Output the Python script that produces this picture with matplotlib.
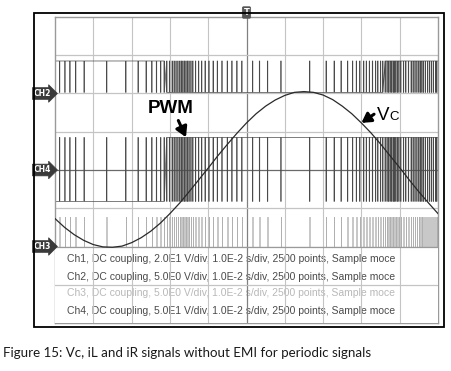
import numpy as np
import matplotlib
matplotlib.use("Agg")
import matplotlib.pyplot as plt
from matplotlib.patches import Rectangle

# ---------------- data ----------------
# screen: 10 ms/div horizontally (10 div), 8 div vertically
x_ticks = [0, 10, 20, 30, 40, 50, 60, 70, 80, 90, 100]
y_ticks = [0, 1, 2, 3, 4, 5, 6, 7, 8]

# Ch1 (Vc) trace, screen divisions vs time (ms)
vc_t = [0, 2.5, 5, 7.5, 10, 12.5, 15, 17.5, 20, 22.5, 25, 27.5, 30, 32.5, 35,
        37.5, 40, 42.5, 45, 47.5, 50, 52.5, 55, 57.5, 60, 62.5, 65, 67.5, 70,
        72.5, 75, 77.5, 80, 82.5, 85, 87.5, 90, 92.5, 95, 97.5, 100]
vc_y = [2.73, 2.50, 2.31, 2.16, 2.05, 1.99, 1.98, 2.01, 2.10, 2.23, 2.40, 2.61,
        2.86, 3.13, 3.43, 3.74, 4.05, 4.37, 4.67, 4.96, 5.23, 5.47, 5.67, 5.83,
        5.95, 6.03, 6.05, 6.03, 5.96, 5.84, 5.67, 5.47, 5.23, 4.97, 4.68, 4.37,
        4.06, 3.74, 3.43, 3.14, 2.86]

# PWM switching instants (ms), shared by Ch2, Ch3, Ch4
pulse_t = [1.2, 2.6, 3.9, 5.4, 7.6, 13.5, 18.5, 21.7, 23.8, 25.3, 26.5, 27.6,
           28.5, 29.2, 29.9, 30.6, 31.1, 31.6, 32.1, 32.6, 33.0, 33.4, 33.8,
           34.2, 34.6, 35.0, 35.5, 36.0, 36.7, 37.5, 38.3, 39.2, 40.2, 41.3,
           42.4, 43.6, 45.0, 46.2, 47.5, 48.8, 51.6, 53.4, 55.5, 59.0, 66.5,
           70.8, 72.9, 74.7, 76.4, 77.7, 78.7, 79.6, 80.6, 81.3, 82.1, 82.9,
           83.7, 84.3, 85.0, 85.6, 86.2, 86.7, 87.1, 87.5, 87.9, 88.3, 88.6,
           89.0, 89.4, 89.8, 90.3, 91.0, 91.6, 92.3, 93.0, 93.5, 94.0, 94.5,
           95.0, 95.4, 95.8, 96.2, 96.7, 97.3, 97.8, 98.3, 98.8, 99.4, 99.7]

ch2_levels = [6.03, 6.85]   # low, high (div)
ch4_levels = [3.18, 4.85]
ch3_levels = [1.99, 2.77]
ch2_high_ranges = [(0, 29.0), (86.0, 100)]   # baseline high in these windows
ch4_high_ranges = [(29.0, 100)]
ch3_high_ranges = []

marker_labels = ["CH2", "CH4", "CH3"]
marker_levels = [6.0, 4.0, 2.0]

info_lines = [
    "Ch1, DC coupling, 2.0E1 V/div, 1.0E-2 s/div, 2500 points, Sample moce",
    "Ch2, DC coupling, 5.0E0 V/div, 1.0E-2 s/div, 2500 points, Sample moce",
    "Ch3, DC coupling, 5.0E0 V/div, 1.0E-2 s/div, 2500 points, Sample moce",
    "Ch4, DC coupling, 5.0E1 V/div, 1.0E-2 s/div, 2500 points, Sample moce",
]
info_colors = ["#4a4a4a", "#4a4a4a", "#b8b8b8", "#4a4a4a"]
info_y = [1.67, 1.21, 0.78, 0.31]

caption = "Figure 15: Vc, iL and iR signals without EMI for periodic signals"

# ---------------- drawing ----------------
W, H = 452, 371
fig = plt.figure(figsize=(W / 100, H / 100), dpi=100)
ax = fig.add_axes([55 / W, 1 - 323 / H, (438 - 55) / W, (323 - 17) / H])
ax.set_xlim(x_ticks[0], x_ticks[-1])
ax.set_ylim(y_ticks[0], y_ticks[-1])
ax.set_xticks([])
ax.set_yticks([])
for s in ax.spines.values():
    s.set_color("#9a9a9a")
    s.set_linewidth(1.0)

grid_c = "#c4c4c4"
center_c = "#808080"
# grid in the trace area (under traces)
for xv in x_ticks[1:-1]:
    c = center_c if xv == 50 else grid_c
    ax.plot([xv, xv], [2, 8], color=c, lw=0.9 if xv == 50 else 0.8, zorder=1)
for yv in y_ticks[1:-1]:
    c = "#6a6a6a" if yv == 4 else grid_c
    ax.plot([0, 100], [yv, yv], color=c, lw=0.9, zorder=1)


def in_ranges(t, ranges):
    return any(a <= t < b for a, b in ranges)


def pulse_trace(times, levels, high_ranges, w=0.06):
    lo, hi = levels
    xs, ys = [], []
    b0 = hi if in_ranges(0, high_ranges) else lo
    xs.append(0)
    ys.append(b0)
    for t in times:
        high = in_ranges(t, high_ranges)
        b = hi if high else lo
        o = lo if high else hi
        xs += [t - w, t - w, t + w, t + w]
        ys += [b, o, o, b]
    bend = hi if in_ranges(99.99, high_ranges) else lo
    xs.append(100)
    ys.append(bend)
    return xs, ys


tc = "#4a4a4a"
x2, y2 = pulse_trace(pulse_t, ch2_levels, ch2_high_ranges)
ax.plot(x2, y2, color=tc, lw=0.5, zorder=2)
x4, y4 = pulse_trace(pulse_t, ch4_levels, ch4_high_ranges)
ax.plot(x4, y4, color=tc, lw=0.5, zorder=2)
x3, y3 = pulse_trace(pulse_t, ch3_levels, ch3_high_ranges)
ax.plot(x3, y3, color="#b0b0b0", lw=0.5, zorder=2)

# info box
ax.add_patch(Rectangle((0, 0), 100, 2, facecolor="white", edgecolor="none", zorder=3))
for txt, c, yy in zip(info_lines, info_colors, info_y):
    ax.text(3.1, yy, txt, color=c, fontsize=7.5, family="Liberation Sans",
            va="center", ha="left", zorder=4)
for xv in x_ticks[1:-1]:
    c = center_c if xv == 50 else grid_c
    ax.plot([xv, xv], [0, 2], color=c, lw=0.9 if xv == 50 else 0.8, zorder=5)
for yv in [1, 2]:
    ax.plot([0, 100], [yv, yv], color=grid_c if yv == 1 else "#9a9a9a", lw=0.9, zorder=5)

# Vc trace
ax.plot(vc_t, vc_y, color="#2a2a2a", lw=0.9, zorder=6)

# labels
ax.text(24.3, 5.62, "PWM", fontsize=13.5, fontweight="bold", family="Liberation Sans",
        color="black", va="center", ha="left", zorder=7)
ax.annotate("", xy=(34.5, 4.79), xytext=(31.9, 5.36),
            arrowprops=dict(arrowstyle="-|>,head_length=0.6,head_width=0.35",
                            color="black", lw=2.2), zorder=7)
ax.text(84.1, 5.3, "V", fontsize=13.5, family="Liberation Sans", color="black",
        va="baseline", ha="left", zorder=7)
ax.text(87.2, 5.3, "C", fontsize=9.5, family="Liberation Sans", color="black",
        va="baseline", ha="left", zorder=7)
ax.annotate("", xy=(79.4, 5.19), xytext=(83.9, 5.5),
            arrowprops=dict(arrowstyle="-|>,head_length=0.55,head_width=0.32",
                            color="black", lw=2.2), zorder=7)

# channel markers
for lab, lv in zip(marker_labels, marker_levels):
    ax.text(-1.0, lv, lab, fontsize=5.5, fontweight="bold", color="white",
            family="DejaVu Sans", ha="right", va="center", clip_on=False, zorder=8,
            bbox=dict(boxstyle="rarrow,pad=0.18", facecolor="#3a3a3a",
                      edgecolor="#3a3a3a", lw=0.5))

# trigger marker
ax.text(50, 8.0, "T", fontsize=6, fontweight="bold", color="white",
        family="DejaVu Sans", ha="center", va="bottom", clip_on=False, zorder=8,
        bbox=dict(boxstyle="round,pad=0.15", facecolor="#555555",
                  edgecolor="#555555", lw=0.5))

# outer frame
fig.patches.append(Rectangle((34 / W, 1 - 327 / H), (444 - 34) / W, (327 - 13) / H,
                             transform=fig.transFigure, fill=False,
                             edgecolor="black", lw=1.3))

fig.text(3 / W, 1 - 357 / H, caption, fontsize=9.6, family="Lato", color="#1a1a1a",
         va="baseline", ha="left")

fig.savefig("out.png", dpi=100)
